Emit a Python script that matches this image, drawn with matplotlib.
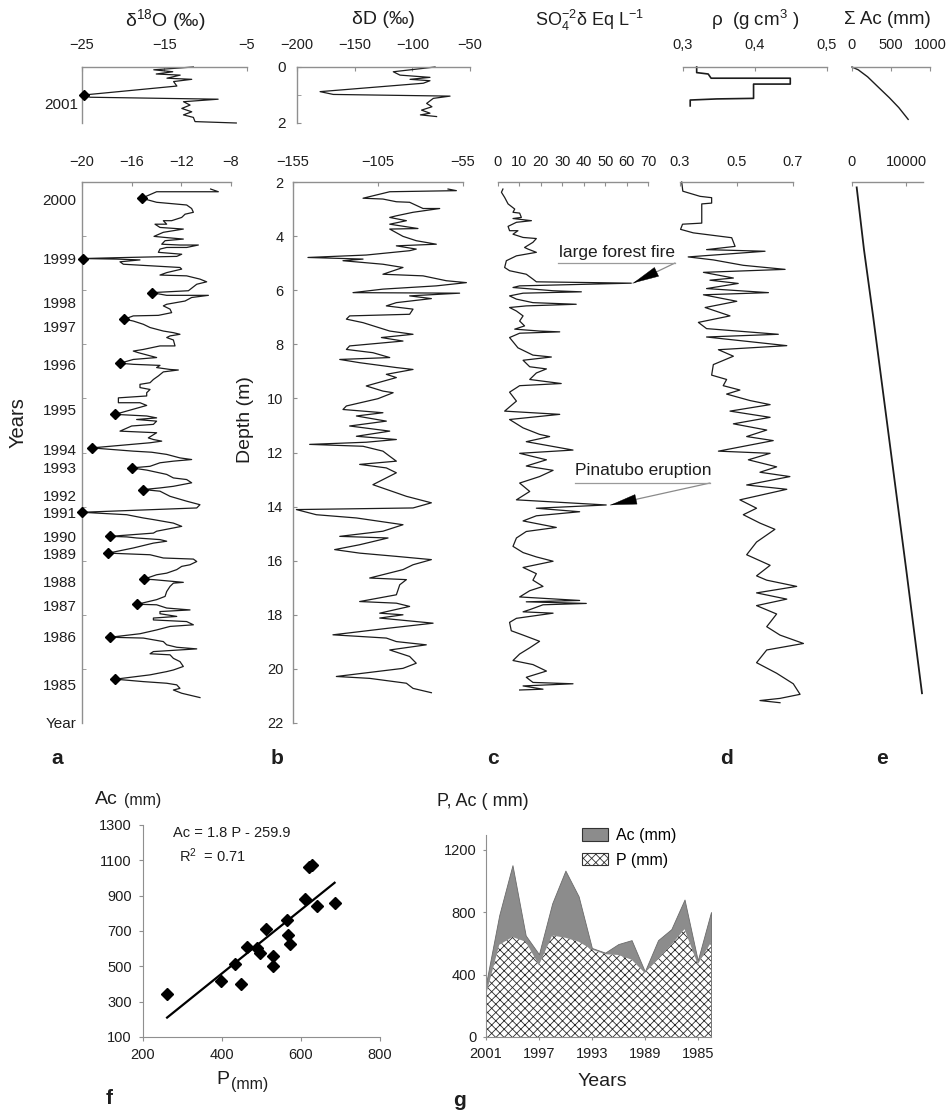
import numpy as np
import matplotlib
matplotlib.use('Agg')
import matplotlib.pyplot as plt
from matplotlib.patches import Patch
from matplotlib.lines import Line2D

plt.rcParams['font.family'] = ['Liberation Sans', 'DejaVu Sans']
plt.rcParams['mathtext.fontset'] = 'custom'
plt.rcParams['mathtext.rm'] = 'Liberation Sans'
plt.rcParams['mathtext.it'] = 'Liberation Sans:italic'
plt.rcParams['mathtext.bf'] = 'Liberation Sans:bold'
plt.rcParams['hatch.linewidth'] = 0.6

# ---------------- data ----------------
# top row (0-2 m)
top_d18o_val = [-11.5, -16.3, -14.0, -16.0, -13.1, -14.7, -11.7, -13.9, -13.5, -24.8, -24.0, -8.5,
                -12.7, -11.9, -12.9, -11.7, -12.7, -11.5, -11.3, -6.3]
top_d18o_depth = [0.00, 0.10, 0.17, 0.25, 0.29, 0.40, 0.44, 0.52, 0.68, 1.00, 1.08, 1.15,
                  1.24, 1.36, 1.48, 1.60, 1.71, 1.80, 1.95, 2.00]
top_mark_val = [-24.8]
top_mark_depth = [1.00]
top_year_depth = [1.29]
top_year_label = ['2001']

top_dD_val = [-80.3, -116.5, -110.7, -84.7, -102.0, -84.7, -90.5, -180.0, -168.5, -67.3, -81.8,
              -87.6, -83.0, -92.0, -84.7, -93.0, -79.0]
top_dD_depth = [0.00, 0.17, 0.29, 0.37, 0.44, 0.49, 0.58, 0.88, 0.98, 1.04, 1.12,
                1.30, 1.42, 1.54, 1.65, 1.71, 1.77]

top_rho_val = [0.319, 0.319, 0.335, 0.339, 0.449, 0.449, 0.398, 0.398, 0.347, 0.310, 0.310]
top_rho_depth = [0.00, 0.20, 0.25, 0.40, 0.40, 0.61, 0.61, 1.12, 1.14, 1.18, 1.39]

top_acc_val = [0, 80, 200, 330, 480, 600, 720]
top_acc_depth = [0.00, 0.10, 0.35, 0.70, 1.10, 1.45, 1.87]

# main row (2-22 m)
d18o_val = [-9.64, -9.02, -13.99, -15.19, -13.99, -11.57, -11.17, -11.03, -11.70, -11.97, -12.78, -13.45,
            -13.18, -14.12, -13.72, -11.84, -13.45, -14.20, -13.31, -11.84, -13.31, -13.58, -12.11, -10.63,
            -11.57, -13.18, -13.72, -13.85, -11.97, -12.37, -16.40, -19.95, -17.21, -15.33, -16.94, -16.67,
            -14.39, -12.11, -11.97, -13.18, -13.72, -11.57, -10.50, -9.96, -10.76, -11.43, -14.39, -13.18,
            -9.82, -11.17, -11.70, -13.18, -13.45, -12.91, -12.78, -13.85, -15.87, -16.59, -15.87, -15.06,
            -14.52, -13.45, -12.64, -12.11, -12.91, -13.18, -12.64, -12.51, -13.72, -15.06, -15.87, -15.46,
            -13.99, -15.87, -16.94, -15.87, -13.72, -13.99, -12.91, -12.24, -13.45, -13.85, -14.25, -14.52,
            -15.33, -15.33, -14.52, -14.79, -14.79, -17.07, -17.07, -15.33, -14.79, -17.34, -14.79, -13.99,
            -15.60, -13.99, -14.25, -16.00, -16.94, -13.99, -14.66, -14.25, -13.58, -14.52, -19.22, -15.87,
            -14.39, -13.18, -12.11, -11.17, -12.64, -13.72, -14.52, -16.00, -14.79, -13.99, -13.18, -12.64,
            -11.57, -11.17, -12.64, -13.72, -15.06, -13.72, -12.91, -11.57, -10.50, -10.76, -20.00, -16.40,
            -15.06, -14.25, -12.64, -11.97, -13.99, -14.25, -17.74, -16.40, -15.60, -13.72, -13.18, -14.25,
            -15.87, -17.88, -14.52, -13.45, -11.03, -10.76, -11.30, -11.97, -12.37, -13.18, -13.99, -15.01,
            -14.25, -11.84, -12.64, -12.91, -13.18, -13.31, -13.99, -15.55, -13.99, -13.18, -11.30, -13.72,
            -13.72, -12.37, -14.25, -14.25, -11.57, -11.03, -12.91, -13.99, -15.33, -17.74, -15.06, -13.45,
            -13.18, -12.37, -10.76, -14.25, -14.52, -12.91, -12.64, -12.11, -11.84, -12.64, -13.18, -14.52,
            -17.31, -15.06, -13.18, -12.37, -12.11, -12.64, -11.97, -10.50]
d18o_depth = [2.26, 2.36, 2.36, 2.60, 2.75, 2.85, 2.98, 3.12, 3.19, 3.31, 3.43, 3.43,
              3.56, 3.56, 3.68, 3.74, 3.86, 4.01, 4.05, 4.11, 4.17, 4.30, 4.33, 4.33,
              4.42, 4.42, 4.48, 4.60, 4.67, 4.75, 4.79, 4.83, 4.85, 4.88, 4.95, 5.04,
              5.10, 5.16, 5.22, 5.35, 5.44, 5.47, 5.59, 5.69, 5.78, 6.02, 6.09, 6.19,
              6.19, 6.27, 6.40, 6.52, 6.58, 6.70, 6.83, 6.93, 6.95, 7.07, 7.14, 7.26,
              7.38, 7.51, 7.57, 7.63, 7.69, 7.75, 7.84, 8.06, 8.06, 8.19, 8.25, 8.31,
              8.49, 8.56, 8.70, 8.74, 8.78, 8.86, 8.93, 8.95, 9.02, 9.17, 9.30, 9.42,
              9.48, 9.60, 9.67, 9.79, 9.91, 9.98, 10.16, 10.16, 10.26, 10.59, 10.65, 10.72,
              10.78, 10.84, 10.96, 11.02, 11.21, 11.27, 11.46, 11.52, 11.58, 11.64, 11.83, 11.95,
              11.99, 12.07, 12.20, 12.26, 12.32, 12.38, 12.51, 12.57, 12.65, 12.73, 12.81, 12.94,
              13.00, 13.12, 13.25, 13.31, 13.37, 13.43, 13.62, 13.80, 13.93, 14.05, 14.21, 14.30,
              14.42, 14.48, 14.61, 14.73, 14.91, 14.98, 15.10, 15.12, 15.16, 15.22, 15.28, 15.35,
              15.53, 15.72, 15.78, 15.90, 15.94, 16.03, 16.15, 16.21, 16.33, 16.46, 16.52, 16.68,
              16.70, 16.80, 16.83, 16.95, 17.14, 17.32, 17.44, 17.61, 17.63, 17.75, 17.82, 17.88,
              17.96, 18.06, 18.12, 18.19, 18.25, 18.37, 18.43, 18.56, 18.70, 18.83, 18.86, 18.99,
              19.11, 19.20, 19.26, 19.36, 19.44, 19.48, 19.61, 19.73, 19.91, 20.04, 20.10, 20.22,
              20.38, 20.47, 20.53, 20.59, 20.72, 20.78, 20.90, 21.06]

mark_val = [-15.19, -19.95, -14.39, -16.59, -16.94, -17.34, -19.22, -16.00, -15.06, -20.0,
            -17.74, -17.88, -15.01, -15.55, -17.74, -17.31]
mark_depth = [2.60, 4.83, 6.09, 7.07, 8.70, 10.59, 11.83, 12.57, 13.37, 14.21,
              15.10, 15.72, 16.68, 17.61, 18.83, 20.38]

year_depth = [2.63, 4.81, 6.44, 7.33, 8.74, 10.40, 11.90, 12.56, 13.60, 14.20,
              15.10, 15.74, 16.78, 17.67, 18.81, 20.59, 22.0]
year_label = ['2000', '1999', '1998', '1997', '1996', '1995', '1994', '1993', '1992', '1991',
              '1990', '1989', '1988', '1987', '1986', '1985', 'Year']

dD_val = [-63.8, -58.9, -98.1, -113.8, -102.1, -94.2, -86.4, -78.5, -68.7, -84.4, -94.2, -98.1,
          -88.3, -98.1, -81.5, -98.1, -90.3, -82.5, -70.7, -94.2, -82.5, -86.4, -111.9, -146.2,
          -113.8, -125.6, -102.1, -90.3, -102.1, -78.5, -64.8, -53.0, -70.7, -102.1, -119.7, -57.0,
          -86.4, -73.6, -94.2, -100.1, -84.4, -86.4, -121.7, -123.6, -113.8, -98.1, -84.4, -103.0,
          -90.3, -121.7, -123.6, -108.0, -98.1, -127.5, -115.8, -94.2, -84.4, -100.1, -94.2, -111.9,
          -102.1, -96.1, -105.0, -123.6, -125.6, -102.1, -117.7, -100.1, -121.7, -98.1, -117.7, -94.2,
          -111.9, -145.2, -113.8, -102.1, -98.1, -94.2, -115.8, -100.1, -94.2, -108.0, -94.2,
          -88.3, -73.6, -84.4, -153.0, -141.3, -117.7, -90.3, -102.1, -127.5, -99.1, -115.8, -130.5,
          -115.8, -94.2, -73.6, -84.4, -90.3, -109.9, -88.3, -92.2, -94.2, -115.8, -94.2, -86.4,
          -104.0, -90.3, -104.0, -72.6, -98.1, -131.5, -100.1, -94.2, -76.6, -98.1, -86.4, -82.5,
          -90.3, -129.5, -109.9, -88.3, -84.4, -73.6]
dD_depth = [2.26, 2.32, 2.36, 2.60, 2.63, 2.73, 2.75, 2.98, 2.98, 3.12, 3.25, 3.31,
            3.43, 3.56, 3.72, 3.74, 4.01, 4.17, 4.30, 4.36, 4.48, 4.54, 4.70, 4.79,
            4.85, 4.91, 5.04, 5.16, 5.41, 5.47, 5.65, 5.72, 5.84, 5.96, 6.09, 6.11,
            6.21, 6.31, 6.46, 6.58, 6.70, 6.89, 6.95, 7.07, 7.20, 7.51, 7.63, 7.75,
            7.88, 8.06, 8.19, 8.31, 8.49, 8.56, 8.68, 8.86, 8.93, 9.11, 9.23, 9.54,
            9.73, 9.79, 10.01, 10.28, 10.41, 10.53, 10.65, 10.84, 11.02, 11.21, 11.40, 11.52,
            11.62, 11.70, 11.77, 11.95, 12.14, 12.32, 12.44, 12.57, 12.75, 13.19, 13.49,
            13.62, 13.86, 14.05, 14.11, 14.30, 14.42, 14.67, 14.91, 15.10, 15.16, 15.41, 15.59,
            15.72, 15.84, 15.96, 16.15, 16.33, 16.64, 16.70, 16.89, 17.26, 17.51, 17.57, 17.69,
            17.94, 18.00, 18.12, 18.31, 18.49, 18.74, 18.86, 18.99, 19.11, 19.30, 19.54, 19.79,
            19.98, 20.28, 20.35, 20.53, 20.72, 20.88]

so4_val = [2.3, 1.6, 3.1, 4.7, 7.8, 7.0, 10.1, 10.9, 7.0, 15.6, 8.6, 4.7, 5.4, 9.3, 7.0, 11.7, 17.9,
           16.3, 12.4, 14.0, 17.9, 8.6, 3.9, 3.1, 5.4, 13.2, 16.3, 17.9, 62.2, 10.1, 7.0, 25.7, 38.9,
           11.7, 5.4, 8.6, 16.3, 36.5, 13.2, 5.4, 8.6, 11.7, 10.1, 12.4, 7.8, 19.4, 28.8, 10.1, 5.4,
           9.3, 16.3, 24.9, 11.7, 14.8, 22.6, 17.9, 14.8, 29.5, 10.1, 5.4, 8.6, 3.1, 28.8, 5.4, 11.7,
           19.4, 24.1, 13.2, 35.0, 10.1, 22.6, 13.2, 25.7, 19.4, 10.1, 14.8, 8.6, 50.5, 17.9, 38.1,
           17.9, 11.7, 27.2, 13.2, 8.6, 7.0, 11.7, 17.9, 25.7, 11.7, 17.9, 16.3, 21.0, 14.8, 10.1,
           38.1, 13.2, 41.2, 21.0, 14.8, 11.7, 25.7, 8.6, 5.4, 6.2, 11.7, 19.4, 14.8, 10.1, 7.0, 16.3,
           22.6, 13.2, 16.3, 35.0, 11.7, 21.0, 10.1]
so4_depth = [2.26, 2.38, 2.57, 2.81, 3.00, 3.12, 3.15, 3.31, 3.35, 3.43, 3.49, 3.64, 3.80, 3.80, 3.93,
             4.05, 4.09, 4.23, 4.42, 4.48, 4.60, 4.73, 4.91, 5.16, 5.28, 5.41, 5.59, 5.69, 5.74, 5.84,
             5.90, 6.02, 6.06, 6.11, 6.21, 6.33, 6.46, 6.52, 6.58, 6.64, 6.77, 6.95, 7.14, 7.32, 7.44,
             7.51, 7.54, 7.59, 7.75, 8.13, 8.40, 8.47, 8.59, 8.83, 8.91, 9.06, 9.30, 9.45, 9.53, 9.77,
             10.10, 10.47, 10.59, 10.78, 11.09, 11.33, 11.41, 11.60, 11.91, 12.03, 12.27, 12.50, 12.66,
             12.89, 13.13, 13.44, 13.75, 13.94, 14.06, 14.19, 14.34, 14.53, 14.77, 14.92, 15.16, 15.47,
             15.70, 15.86, 16.02, 16.25, 16.48, 16.72, 16.95, 17.11, 17.34, 17.47, 17.52, 17.58, 17.63,
             17.81, 17.89, 17.94, 18.13, 18.28, 18.59, 18.75, 18.98, 19.22, 19.45, 19.69, 19.84, 20.08,
             20.31, 20.50, 20.55, 20.63, 20.75, 20.78]

rho_val = [0.306, 0.310, 0.371, 0.412, 0.412, 0.377, 0.377, 0.309, 0.302, 0.347, 0.483, 0.495, 0.394,
           0.601, 0.329, 0.418, 0.524, 0.672, 0.383, 0.489, 0.406, 0.506, 0.394, 0.613, 0.383, 0.501,
           0.389, 0.477, 0.365, 0.394, 0.648, 0.394, 0.678, 0.436, 0.489, 0.418, 0.412, 0.465, 0.453,
           0.512, 0.465, 0.548, 0.619, 0.477, 0.619, 0.489, 0.607, 0.536, 0.630, 0.436, 0.619, 0.542,
           0.642, 0.583, 0.689, 0.536, 0.678, 0.512, 0.571, 0.524, 0.583, 0.636, 0.571, 0.536, 0.619,
           0.571, 0.607, 0.713, 0.571, 0.678, 0.571, 0.642, 0.607, 0.654, 0.737, 0.607, 0.571, 0.642,
           0.701, 0.725, 0.654, 0.583, 0.654]
rho_depth = [2.00, 2.34, 2.53, 2.58, 2.78, 2.81, 3.52, 3.56, 3.75, 3.88, 4.06, 4.38, 4.50,
             4.56, 4.77, 4.88, 5.08, 5.23, 5.34, 5.55, 5.63, 5.75, 5.94, 6.09, 6.17, 6.41,
             6.64, 6.95, 7.19, 7.42, 7.63, 7.73, 8.05, 8.20, 8.44, 8.75, 9.14, 9.30, 9.53,
             9.69, 9.84, 10.08, 10.23, 10.47, 10.70, 10.94, 11.17, 11.41, 11.56, 11.95, 12.03, 12.27,
             12.53, 12.73, 12.89, 13.20, 13.36, 13.75, 14.06, 14.30, 14.61, 14.84, 15.31, 15.78, 16.17,
             16.56, 16.72, 16.95, 17.19, 17.42, 17.66, 17.97, 18.44, 18.75, 19.06, 19.30, 19.77, 20.16,
             20.55, 20.94, 21.09, 21.17, 21.25]

acc_val = [860, 2200, 3900, 6500, 10000, 12850]
acc_depth = [2.2, 4.5, 7.0, 11.0, 16.4, 20.9]

# panel f
P_f = [261, 398, 449, 434, 464, 488, 496, 512, 529, 529, 565, 568, 571, 609, 620, 628, 641, 685]
Ac_f = [346, 416, 401, 516, 610, 605, 575, 712, 557, 501, 760, 677, 629, 883, 1064, 1072, 841, 860]
fit_slope, fit_intercept = 1.8, -259.9

# panel g
years_g = [2001, 2000, 1999, 1998, 1997, 1996, 1995, 1994, 1993, 1992, 1991, 1990, 1989, 1988,
           1987, 1986, 1985, 1984]
P_g = [270, 590, 640, 610, 460, 650, 635, 610, 560, 530, 525, 495, 410, 500, 590, 690, 465, 605]
Ac_g = [340, 780, 1100, 650, 530, 855, 1065, 900, 570, 540, 595, 620, 420, 620, 690, 880, 490, 800]

# ---------------- figure ----------------
W, H = 953, 1110
fig = plt.figure(figsize=(W / 100, H / 100), dpi=100)
SP = '#8f8f8f'
TXT = '#1e1e1e'
LINE = '#1c1c1c'


def box(x0, y0, x1, y1):
    return [x0 / W, 1 - y1 / H, (x1 - x0) / W, (y1 - y0) / H]


def ftext(x, y, s, **kw):
    kw.setdefault('color', TXT)
    return fig.text(x / W, 1 - y / H, s, **kw)


def core_axis(ax, left=False, pad=9):
    ax.spines['bottom'].set_visible(False)
    ax.spines['right'].set_visible(False)
    ax.spines['left'].set_visible(left)
    for s in ['top', 'left']:
        ax.spines[s].set_color(SP)
        ax.spines[s].set_linewidth(1.0)
    ax.xaxis.tick_top()
    ax.xaxis.set_label_position('top')
    ax.tick_params(axis='x', which='both', direction='in', length=3, color=SP,
                   labelsize=10.5, pad=pad, labelcolor=TXT)
    ax.tick_params(axis='y', which='both', direction='in', length=3, color=SP,
                   labelsize=10.5, labelcolor=TXT, left=left, labelleft=left)
    ax.patch.set_alpha(0)


# ---- top row ----
ax1 = fig.add_axes(box(82, 67, 247, 123))
ax1.plot(top_d18o_val, top_d18o_depth, color=LINE, lw=0.9, clip_on=False)
ax1.plot(top_mark_val, top_mark_depth, 'D', ms=5.5, color='k', clip_on=False, zorder=5)
ax1.set_xlim(-25, -5)
ax1.set_ylim(2, 0)
core_axis(ax1, left=True, pad=11)
ax1.set_xticks([-25, -15, -5])
ax1.set_yticks(top_year_depth, labels=top_year_label)
ax1.tick_params(axis='y', which='major', length=0, pad=3, labelsize=11)

ax2 = fig.add_axes(box(297, 67, 470, 123))
ax2.plot(top_dD_val, top_dD_depth, color=LINE, lw=0.9, clip_on=False)
ax2.set_xlim(-200, -50)
ax2.set_ylim(2, 0)
core_axis(ax2, left=True, pad=11)
ax2.set_xticks([-200, -150, -100, -50])
ax2.set_yticks([0, 2])
ax2.set_yticks([1], minor=True)
ax2.tick_params(axis='y', which='major', pad=8, labelsize=11)

ax4 = fig.add_axes(box(683, 67, 827, 123))
ax4.plot(top_rho_val, top_rho_depth, color=LINE, lw=1.2, clip_on=False)
ax4.set_xlim(0.3, 0.5)
ax4.set_ylim(2, 0)
core_axis(ax4, left=False, pad=11)
ax4.set_xticks([0.3, 0.4, 0.5], labels=['0,3', '0,4', '0,5'])

ax5 = fig.add_axes(box(852, 67, 930, 123))
ax5.plot(top_acc_val, top_acc_depth, color=LINE, lw=1.0, clip_on=False)
ax5.set_xlim(0, 1000)
ax5.set_ylim(2, 0)
core_axis(ax5, left=False, pad=11)
ax5.set_xticks([0, 500, 1000])

# ---- main row ----
Y0, Y1 = 182, 723
axa = fig.add_axes(box(82, Y0, 231, Y1))
axa.plot(d18o_val, d18o_depth, color=LINE, lw=0.9, clip_on=False)
axa.plot(mark_val, mark_depth, 'D', ms=5.5, color='k', clip_on=False, zorder=5)
axa.set_xlim(-20, -8)
axa.set_ylim(22, 2)
core_axis(axa, left=True)
axa.set_xticks([-20, -16, -12, -8])
axa.set_yticks(year_depth, labels=year_label)
axa.set_yticks(np.arange(4, 22, 2), minor=True)
axa.tick_params(axis='y', which='major', length=0, pad=4, labelsize=11)

axb = fig.add_axes(box(293, Y0, 463, Y1))
axb.plot(dD_val, dD_depth, color=LINE, lw=0.9, clip_on=False)
axb.set_xlim(-155, -55)
axb.set_ylim(22, 2)
core_axis(axb, left=True)
axb.set_xticks([-155, -105, -55])
axb.set_yticks(np.arange(2, 23, 2))
axb.tick_params(axis='y', which='major', pad=7, labelsize=10.5)

axc = fig.add_axes(box(498, Y0, 648, Y1))
axc.plot(so4_val, so4_depth, color=LINE, lw=0.9, clip_on=False)
axc.set_xlim(0, 70)
axc.set_ylim(22, 2)
core_axis(axc, left=False)
axc.set_xticks(np.arange(0, 71, 10))

axd = fig.add_axes(box(680, Y0, 793, Y1))
axd.plot(rho_val, rho_depth, color=LINE, lw=0.9, clip_on=False)
axd.set_xlim(0.3, 0.7)
axd.set_ylim(22, 2)
core_axis(axd, left=False)
axd.set_xticks([0.3, 0.5, 0.7], labels=['0.3', '0.5', '0.7'])

axe = fig.add_axes(box(852, Y0, 923, Y1))
axe.plot(acc_val, acc_depth, color=LINE, lw=1.3, clip_on=False)
axe.set_xlim(0, 13035)
axe.set_ylim(22, 2)
core_axis(axe, left=False)
axe.set_xticks([0, 10000])

# headers
ftext(165, 20, r'δ$^{18}$O (‰)', ha='center', va='center', fontsize=14)
ftext(383, 20, r'δD (‰)', ha='center', va='center', fontsize=14)
ftext(590, 20, r'SO$_4^{-2}$δ Eq L$^{-1}$', ha='center', va='center', fontsize=13)
ftext(755, 20, r'ρ  (g cm$^3$ )', ha='center', va='center', fontsize=13.5)
ftext(887, 20, r'Σ Ac (mm)', ha='center', va='center', fontsize=13.5)

ftext(18, 423, 'Years', ha='center', va='center', rotation=90, fontsize=14.5)
ftext(246, 420, 'Depth (m)', ha='center', va='center', rotation=90, fontsize=14)

for lab, x in zip(['a', 'b', 'c', 'd', 'e'], [57, 277, 493, 727, 882]):
    ftext(x, 758, lab, ha='center', va='center', fontsize=15, fontweight='bold')


# callouts
def callout(ax, text, tx, ty, ux0, ux1, uy, tip):
    ftext(tx, ty, text, ha='center', va='center', fontsize=12.5)
    fig.add_artist(Line2D([ux0 / W, ux1 / W], [1 - uy / H, 1 - uy / H], color='#9a9a9a', lw=0.9))
    start = np.array([ux1, H - uy])
    tip_px = ax.transData.transform(tip)
    ax.annotate('', xy=tip, xycoords='data', xytext=start, textcoords='figure pixels',
                arrowprops=dict(arrowstyle='-', color='#8a8a8a', lw=0.9, shrinkA=0, shrinkB=0),
                annotation_clip=False)
    u = (tip_px - start) / np.linalg.norm(tip_px - start)
    back = tip_px - 20 * u
    ax.annotate('', xy=tip, xycoords='data', xytext=back, textcoords='figure pixels',
                arrowprops=dict(arrowstyle='-|>,head_length=1.8,head_width=0.35', mutation_scale=10,
                                color='k', lw=0.3, shrinkA=0, shrinkB=0),
                annotation_clip=False)


i_fire = int(np.argmax(so4_val))
callout(axc, 'large forest fire', 617, 253, 558, 675, 263,
        (so4_val[i_fire] + 0.8, so4_depth[i_fire]))
sub = [(v, d) for v, d in zip(so4_val, so4_depth) if 12 < d < 16]
v_pin, d_pin = max(sub)
callout(axc, 'Pinatubo eruption', 643, 471, 575, 710, 483, (v_pin + 2.0, d_pin))

# ---- panel f ----
axf = fig.add_axes(box(143, 825, 380, 1037))
axf.plot(P_f, Ac_f, 'D', ms=6, color='k', ls='none', clip_on=False)
px = np.array([min(P_f), max(P_f)])
axf.plot(px, fit_slope * px + fit_intercept, color='k', lw=1.6)
axf.set_xlim(200, 800)
axf.set_ylim(100, 1300)
axf.set_xticks([200, 400, 600, 800])
axf.set_yticks(np.arange(100, 1301, 200))
for s in ['top', 'right']:
    axf.spines[s].set_visible(False)
for s in ['left', 'bottom']:
    axf.spines[s].set_color(SP)
axf.tick_params(direction='out', length=3, color=SP, labelsize=10.5, labelcolor=TXT, pad=5)
axf.patch.set_alpha(0)
ftext(95, 800, 'Ac', ha='left', va='center', fontsize=14)
ftext(124, 801, '(mm)', ha='left', va='center', fontsize=11.5)
ftext(216, 1080, 'P', ha='left', va='center', fontsize=14)
ftext(231, 1085, '(mm)', ha='left', va='center', fontsize=11.5)
ftext(173, 833, 'Ac = 1.8 P - 259.9', ha='left', va='center', fontsize=10.5)
ftext(179, 856, r'R$^2$  = 0.71', ha='left', va='center', fontsize=10.5)
ftext(109, 1098, 'f', ha='center', va='center', fontsize=15, fontweight='bold')

# ---- panel g ----
axg = fig.add_axes(box(486, 835, 711, 1037))
axg.fill_between(years_g, 0, Ac_g, facecolor='#8c8c8c', edgecolor='#6a6a6a', lw=0.6)
axg.fill_between(years_g, 0, P_g, facecolor='white', edgecolor='#2a2a2a', hatch='xxxx', lw=0)
axg.set_xlim(2001, 1984)
axg.set_ylim(0, 1293)
axg.set_xticks([2001, 1997, 1993, 1989, 1985])
axg.set_yticks([0, 400, 800, 1200])
for s in ['top', 'right']:
    axg.spines[s].set_visible(False)
for s in ['left', 'bottom']:
    axg.spines[s].set_color(SP)
axg.tick_params(direction='out', length=2, color=SP, labelsize=10.5, labelcolor=TXT, pad=5)
axg.patch.set_alpha(0)
handles = [Patch(facecolor='#8c8c8c', edgecolor='#333333', lw=0.8, label='Ac (mm)'),
           Patch(facecolor='white', edgecolor='#333333', hatch='xxxx', lw=0.8, label='P (mm)')]
axg.legend(handles=handles, loc='upper left', bbox_to_anchor=(582 / W, 1 - 828 / H),
           bbox_transform=fig.transFigure, frameon=False, fontsize=11.5, handlelength=1.6,
           handleheight=0.8, handletextpad=0.5, labelspacing=0.6, borderaxespad=0, borderpad=0)
ftext(437, 802, 'P, Ac ( mm)', ha='left', va='center', fontsize=13)
ftext(602, 1082, 'Years', ha='center', va='center', fontsize=14)
ftext(460, 1100, 'g', ha='center', va='center', fontsize=15, fontweight='bold')

fig.savefig('out.png', dpi=100)
